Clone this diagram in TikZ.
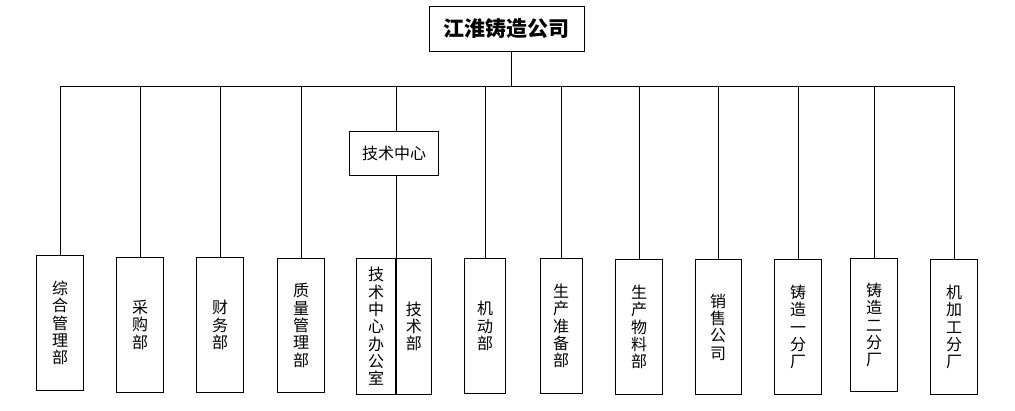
\documentclass[tikz,border=0pt]{standalone}
\usepackage{fontspec}
\setmainfont{Noto Sans CJK SC}
\usepackage{tikz}
\usetikzlibrary{positioning}
\tikzset{
  orgbox/.style={draw, line width=0.9pt, inner sep=0pt, align=center},
  deptbox/.style={orgbox, anchor=north, minimum width=47pt, minimum height=135pt,
    font=\fontsize{16}{17.3}\selectfont},
  link/.style={line width=0.9pt}
}

\begin{document}
\begin{tikzpicture}[x=1pt,y=-1pt]
        \useasboundingbox (0,0) rectangle (1015,411);
        % top
        \node[orgbox, minimum width=155pt, minimum height=45pt,
          font=\fontsize{21}{23}\selectfont\bfseries] (gs) at (506.5,28.5) {江淮铸造公司};
        \coordinate (busL) at (61,86);
        \coordinate (busR) at (955,86);
        % departments
        \node[deptbox, minimum height=135pt] (zh) at (60,255) {综\\合\\管\\理\\部};
        \node[deptbox] (cg) at (140,257) {采\\购\\部};
        \node[deptbox] (cw) at (220,257) {财\\务\\部};
        \node[deptbox, minimum height=134pt] (zl) at (301,258) {质\\量\\管\\理\\部};
        \node[deptbox, minimum width=41pt] (jd) at (485,258) {机\\动\\部};
        \node[deptbox, minimum width=42pt] (zb) at (561,258) {生\\产\\准\\备\\部};
        \node[deptbox] (wl) at (639,259) {生\\产\\物\\料\\部};
        \node[deptbox, minimum width=46pt] (xs) at (718,259) {销\\售\\公\\司};
        \node[deptbox] (zy) at (798,259) {铸\\造\\一\\分\\厂};
        \node[deptbox, minimum height=133pt] (ze) at (874,258) {铸\\造\\二\\分\\厂};
        \node[deptbox] (jj) at (954,259) {机\\加\\工\\分\\厂};
        % technical centre
        \node[orgbox, minimum width=89pt, minimum height=44pt,
          font=\fontsize{16}{18}\selectfont] (jszx) at (394,153) {技术中心};
        \node[deptbox, anchor=north east, minimum width=39pt, minimum height=136pt]
          (bgs) at (396,258) {技\\术\\中\\心\\办\\公\\室};
        \node[deptbox, anchor=north west, minimum width=35pt, minimum height=136pt]
          (jsb) at (396,258) {技\\术\\部};
        % connectors
        \draw[link] ([xshift=4.5pt]gs.south) -- ([xshift=4.5pt]gs.south |- busL);
        \draw[link] (busL) -- (busR);
        \foreach \n in {zh,cg,cw,zl,jd,zb,wl,xs,zy,ze,jj}
          \draw[link] (\n.north |- busL) -- (\n.north);
        \draw[link] (jsb.north west |- busL) -- (jsb.north west |- jszx.north);
        \draw[link] (jsb.north west |- jszx.south) -- (jsb.north west);
      \end{tikzpicture}
\end{document}
